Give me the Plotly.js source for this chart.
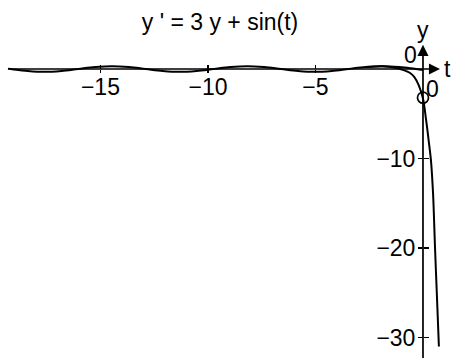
<!DOCTYPE html>
<html>
<head>
<meta charset="utf-8">
<script src="https://cdn.plot.ly/plotly-3.0.1.min.js"></script>
<style>html,body{margin:0;padding:0;background:#fff;}</style>
</head>
<body>
<div id="chart" style="width:452px;height:358px;"></div>
<script>
// Periodic (steady) solution band
const periodicT = [-19.3, -19.17, -18.38, -17.60, -16.81, -16.03, -15.24, -14.46, -13.67, -12.89, -12.10, -11.32, -10.53, -9.74, -8.96, -8.17, -7.39, -6.60, -5.81, -5.03, -4.24, -3.46, -2.67, -1.89, -1.10, -0.32, 0.0];
const periodicY = [0.04, 0.0, -0.22, -0.32, -0.22, 0.0, 0.22, 0.32, 0.22, 0.0, -0.22, -0.32, -0.22, 0.0, 0.22, 0.32, 0.22, 0.0, -0.22, -0.32, -0.22, 0.0, 0.22, 0.32, 0.22, 0.0, -0.1];
// Solution through the marked initial point, diving downward
const divingT = [-2.67, -1.89, -1.3, -0.9, -0.6, -0.4, -0.2, 0.0, 0.14, 0.28, 0.37, 0.47, 0.56, 0.65, 0.74];
const divingY = [0.22, 0.30, 0.15, -0.12, -0.45, -0.9, -1.8, -3.3, -5.6, -8.3, -10.2, -14, -20, -25.5, -31];
// Initial point marker
const initT = [0.0];
const initY = [-3.2];
// Ticks
const xTickVals = [-15, -10, -5];
const yTickVals = [-30, -20, -10];
const titleText = "y ' = 3 y + sin(t)";

const xRange = [-19.67, 1.349];
const yRange = [-32.29, 7.71];
const xPos = (0 - xRange[0]) / (xRange[1] - xRange[0]);
const yPos = (0 - yRange[0]) / (yRange[1] - yRange[0]);
const FONT = "Liberation Sans, Arial, sans-serif";

const traces = [
  {x: periodicT, y: periodicY, type: 'scatter', mode: 'lines',
   line: {color: '#000', width: 2, shape: 'spline', smoothing: 1}, hoverinfo: 'skip'},
  {x: divingT, y: divingY, type: 'scatter', mode: 'lines',
   line: {color: '#000', width: 2, shape: 'spline', smoothing: 0.8}, hoverinfo: 'skip'},
  {x: initT, y: initY, type: 'scatter', mode: 'markers',
   marker: {symbol: 'circle-open', size: 11, color: '#000', line: {width: 1.7, color: '#000'}}, hoverinfo: 'skip'},
  {x: [], y: [], xaxis: 'x2', yaxis: 'y2', type: 'scatter', mode: 'lines', hoverinfo: 'skip'}
];

const axCommon = {showgrid: false, zeroline: false, showline: false, tickcolor: '#000', tickwidth: 1.5,
  tickfont: {family: FONT, size: 23, color: '#000'}, fixedrange: true};

const layout = {
  width: 452, height: 358,
  margin: {l: 0, r: 0, t: 0, b: 0},
  paper_bgcolor: '#fff', plot_bgcolor: '#fff',
  showlegend: false,
  title: {text: titleText, x: 220/452, xanchor: 'center', y: 1 - 22/358, yanchor: 'middle',
          yref: 'container', xref: 'container',
          font: {family: FONT, size: 23, color: '#000'}},
  xaxis: Object.assign({}, axCommon, {range: xRange, anchor: 'free', position: yPos,
    tickmode: 'array', tickvals: xTickVals, ticks: 'outside', ticklen: 3, ticklabelstandoff: -6}),
  yaxis: Object.assign({}, axCommon, {range: yRange, anchor: 'free', position: xPos, side: 'left',
    tickmode: 'array', tickvals: yTickVals, ticks: 'outside', ticklen: 5, ticklabelstandoff: -2}),
  xaxis2: Object.assign({}, axCommon, {range: xRange, overlaying: 'x', anchor: 'free', position: yPos,
    tickmode: 'array', tickvals: xTickVals, ticks: 'inside', ticklen: 4, showticklabels: false}),
  yaxis2: Object.assign({}, axCommon, {range: yRange, overlaying: 'y', anchor: 'free', position: xPos, side: 'left',
    tickmode: 'array', tickvals: yTickVals, ticks: 'inside', ticklen: 5, showticklabels: false}),
  annotations: [
    // x axis with arrow
    {x: 0.79, y: 0, ax: -19.3, ay: 0, xref: 'x', yref: 'y', axref: 'x', ayref: 'y',
     showarrow: true, arrowhead: 2, arrowsize: 1.3, arrowwidth: 1.7, arrowcolor: '#000', text: '', standoff: 0},
    // y axis with arrow
    {x: 0, y: 2.7, ax: 0, ay: -33, xref: 'x', yref: 'y', axref: 'x', ayref: 'y',
     showarrow: true, arrowhead: 2, arrowsize: 1.3, arrowwidth: 1.7, arrowcolor: '#000', text: '', standoff: 0},
    {x: 1.12, y: 0, xref: 'x', yref: 'y', text: 't', showarrow: false, xanchor: 'center', yanchor: 'middle',
     font: {family: FONT, size: 23, color: '#000'}},
    {x: 0.0, y: 4.4, xref: 'x', yref: 'y', text: 'y', showarrow: false, xanchor: 'center', yanchor: 'middle',
     font: {family: FONT, size: 23, color: '#000'}},
    {x: -0.6, y: 1.56, xref: 'x', yref: 'y', text: '0', showarrow: false, xanchor: 'center', yanchor: 'middle',
     font: {family: FONT, size: 23, color: '#000'}},
    {x: 0.42, y: -2.23, xref: 'x', yref: 'y', text: '0', showarrow: false, xanchor: 'center', yanchor: 'middle',
     font: {family: FONT, size: 23, color: '#000'}}
  ]
};

Plotly.newPlot('chart', traces, layout, {staticPlot: true, displayModeBar: false});
</script>
</body>
</html>
